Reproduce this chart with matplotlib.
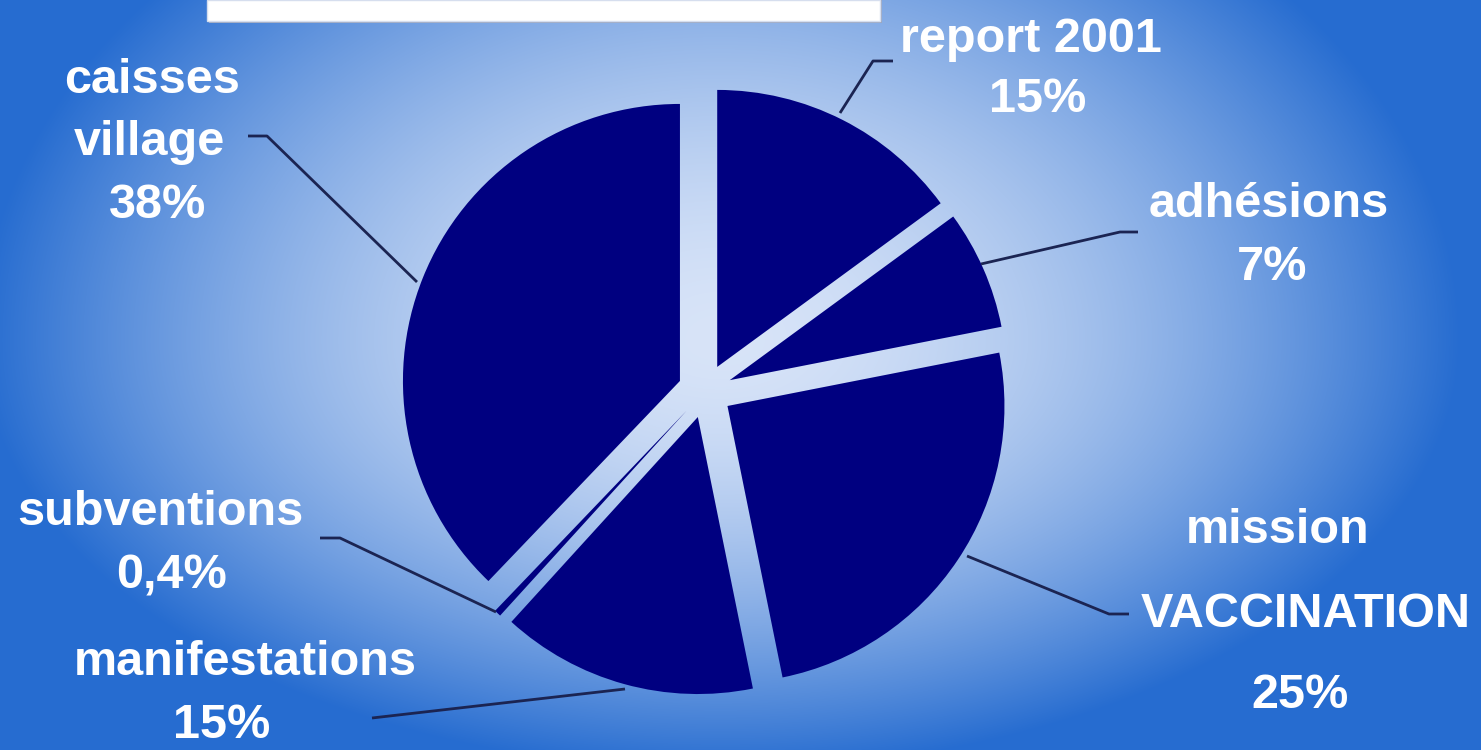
"""
Répartition des recettes — camembert éclaté sur fond dégradé bleu.
Sortie : out.png (1481 x 750)
"""

import numpy as np
import matplotlib.pyplot as plt
from matplotlib.patches import Rectangle

# ── Données ────────────────────────────────────────────────────────────────────
# ordre horaire à partir de midi
categories = ["report 2001", "adhésions", "mission VACCINATION",
              "manifestations", "subventions", "caisses village"]
shares = [15, 7, 25, 15, 0.4, 38]
label_lines = [["report 2001"], ["adhésions"], ["mission", "VACCINATION"],
               ["manifestations"], ["subventions"], ["caisses", "village"]]

# ── Mise en page (pixels image, y depuis le haut) ─────────────────────────────
W, H = 1481, 750
PIE_CENTER = (705, 391)
PIE_RADIUS = 277
EXPLODE_PX = 27
PIE_COLOR = "#000080"
LINE_COLOR = "#1b2452"
FONT = ["Liberation Sans", "DejaVu Sans"]
FONT_SIZE = 35

# positions de ligne de base de chaque ligne de texte (nom..., pourcentage)
LABEL_POS = [
    [(1031, 52), (1038, 112)],
    [(1269, 217), (1272, 280)],
    [(1278, 543), (1306, 627), (1300, 708)],
    [(245, 675), (222, 738)],
    [(160, 525), (172, 588)],
    [(152, 93), (149, 155), (158, 218)],
]
LEADERS = [
    [(893, 61), (873, 61), (840, 113)],
    [(1138, 232), (1120, 232), (981, 264)],
    [(967, 556), (1109, 614), (1129, 614)],
    [(372, 718), (625, 689)],
    [(320, 538), (340, 538), (496, 612)],
    [(248, 136), (267, 136), (417, 282)],
]


def background():
    """Radial gradient: pale centre, saturated blue edges."""
    light = np.array([216, 228, 248]) / 255
    blue = np.array([38, 108, 208]) / 255
    yy, xx = np.mgrid[0:H, 0:W]
    cx, cy = 720, 340
    dx = (xx - cx) / 740
    dy = np.where(yy < cy, (yy - cy) / 540, (yy - cy) / 430)
    t = np.clip(np.hypot(dx, dy), 0, 1) ** 1.7
    return light[None, None, :] * (1 - t[..., None]) + blue[None, None, :] * t[..., None]


def main():
    fig = plt.figure(figsize=(W / 100, H / 100), dpi=100)
    ax = fig.add_axes([0, 0, 1, 1])

    ax.imshow(background(), extent=(0, W, 0, H), origin="upper", zorder=0,
              interpolation="bilinear")

    # title box (cut at top edge)
    ax.add_patch(Rectangle((209, H - 23), 673, 23, facecolor="#9aa6bf",
                           edgecolor="none", zorder=1))
    ax.add_patch(Rectangle((207, H - 21), 673, 21, facecolor="white",
                           edgecolor="#d6deee", linewidth=1, zorder=2))

    ax.pie(shares, explode=[EXPLODE_PX] * len(shares), startangle=90,
           counterclock=False, colors=[PIE_COLOR] * len(shares),
           radius=PIE_RADIUS, center=(PIE_CENTER[0], H - PIE_CENTER[1]),
           wedgeprops=dict(linewidth=0, antialiased=True), frame=False)

    for pts in LEADERS:
        xs = [p[0] for p in pts]
        ys = [H - p[1] for p in pts]
        ax.plot(xs, ys, color=LINE_COLOR, linewidth=2, solid_capstyle="butt", zorder=3)

    for lines, share, pos in zip(label_lines, shares, LABEL_POS):
        pct = f"{share:g}%".replace(".", ",")
        for txt, (x, y) in zip(lines + [pct], pos):
            ax.text(x, H - y, txt, ha="center", va="baseline", color="white",
                    fontsize=FONT_SIZE, fontweight="bold", family=FONT, zorder=4)

    ax.set_xlim(0, W)
    ax.set_ylim(0, H)
    ax.set_aspect("auto")
    ax.axis("off")

    fig.savefig("out.png", dpi=100)
    plt.close(fig)


if __name__ == "__main__":
    main()
